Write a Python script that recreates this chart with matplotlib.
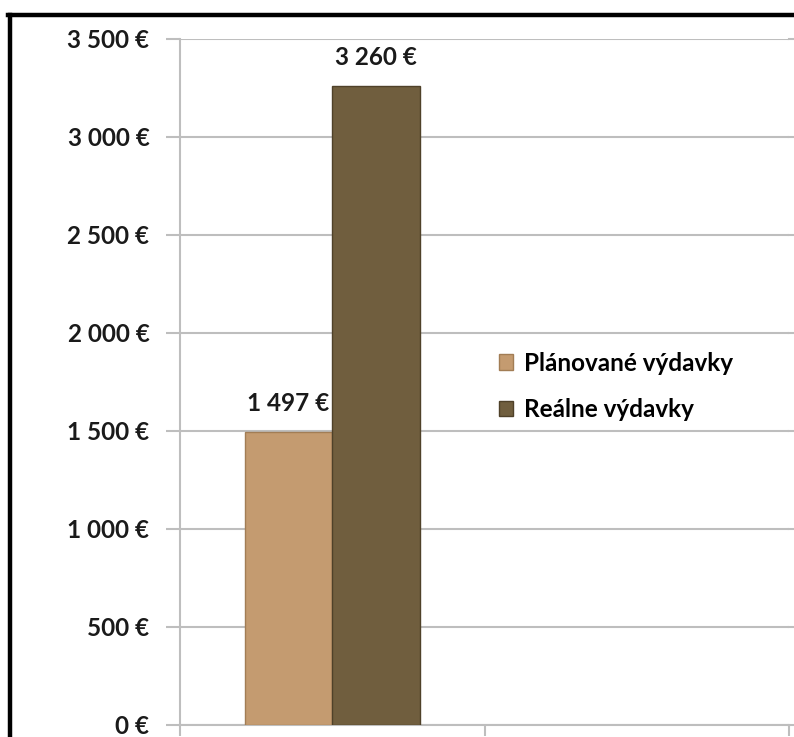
import numpy as np
import matplotlib.pyplot as plt
from matplotlib.lines import Line2D

plt.rcParams['font.family'] = ['Lato', 'DejaVu Sans']
plt.rcParams['font.weight'] = 'bold'

series = ['Plánované výdavky', 'Reálne výdavky']
values = [1497, 3260]
colors = ['#C49B70', '#705E3E']
edge_colors = ['#A27D55', '#4F4129']
yticks = [0, 500, 1000, 1500, 2000, 2500, 3000, 3500]
ytick_labels = ['0 €', '500 €', '1 000 €', '1 500 €', '2 000 €', '2 500 €', '3 000 €', '3 500 €']
value_labels = ['1 497 €', '3 260 €']

W, H = 794, 737
fig = plt.figure(figsize=(W/100, H/100), dpi=100)
ax = fig.add_axes([180/W, 1-725/H, 609/W, (725-39)/H])

width = 0.287
offsets = [-width/2, width/2]
for i in range(len(series)):
	ax.bar(offsets[i], values[i], width=width, color=colors[i], edgecolor=edge_colors[i],
		linewidth=1.0, label=series[i], zorder=3)
	ax.text(offsets[i], values[i] + 85, value_labels[i], ha='center', va='bottom',
		fontsize=17.5, fontweight='bold', color='#1a1a1a', zorder=4)

ax.set_xlim(-0.5, 1.5)
ax.set_ylim(0, 3500)
ax.set_yticks(yticks)
ax.set_yticklabels(ytick_labels, fontsize=17.5, fontweight='bold', color='#1a1a1a')
ax.tick_params(axis='y', length=10, width=1.5, color='#BEBEBE', pad=12)
ax.set_xticks([-0.5, 0.5, 1.5])
ax.set_xticklabels([])
ax.tick_params(axis='x', length=8, width=1.5, color='#BEBEBE')

ax.grid(axis='y', color='#BEBEBE', linewidth=1.5, zorder=0)
for s in ['top', 'right']:
	ax.spines[s].set_visible(False)
for s in ['left', 'bottom']:
	ax.spines[s].set_color('#BEBEBE')
	ax.spines[s].set_linewidth(1.5)

# gridlines run to the right edge of the picture
for y in yticks:
	ax.plot([1.5, 1.6], [y, y], color='#BEBEBE', linewidth=1.5, clip_on=False, zorder=0)

leg = ax.legend(loc='upper left', bbox_to_anchor=(309/609, (725-342)/686), frameon=False,
	prop={'size': 17.5, 'weight': 'bold'}, handlelength=0.6, handleheight=0.6,
	handletextpad=0.45, labelspacing=0.95, borderaxespad=0)

# black frame on top and left only
fig.lines.append(Line2D([10/W, 10/W], [0, 1-15/H], transform=fig.transFigure, color='black', linewidth=3.2))
fig.lines.append(Line2D([8/W, 1], [1-15/H, 1-15/H], transform=fig.transFigure, color='black', linewidth=3.2))

fig.savefig('out.png', dpi=100)
